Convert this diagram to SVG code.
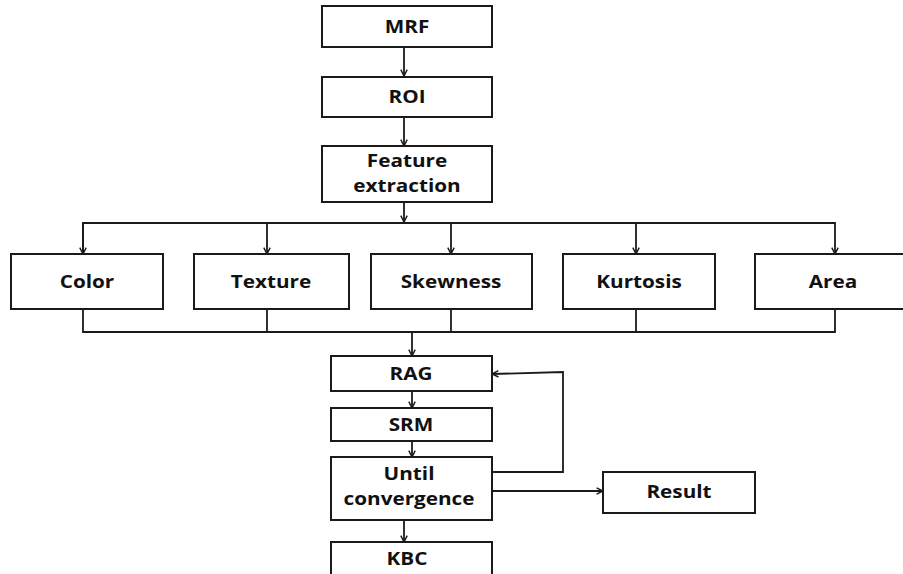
<svg xmlns="http://www.w3.org/2000/svg" width="903" height="574" viewBox="0 0 903 574">
<style>
.box{fill:#fff;stroke:#1a1a1a;stroke-width:2}
.ln{fill:none;stroke:#1a1a1a;stroke-width:1.8}
.t{font-family:"Open Sans","Noto Sans",sans-serif;font-weight:700;font-size:18.5px;fill:#111;text-anchor:middle}
</style>
<defs>
<marker id="ah" viewBox="0 0 10 10" refX="9" refY="5" markerWidth="8" markerHeight="8" markerUnits="userSpaceOnUse" orient="auto">
<path d="M1,1 L9,5 L1,9" fill="none" stroke="#1a1a1a" stroke-width="1.8"/>
</marker>
</defs>
<rect width="903" height="574" fill="#fff"/>
<g id="connectors">
<line class="ln" x1="404" y1="47" x2="404" y2="76" marker-end="url(#ah)"/>
<line class="ln" x1="404" y1="117" x2="404" y2="146" marker-end="url(#ah)"/>
<line class="ln" x1="404" y1="190" x2="404" y2="222" marker-end="url(#ah)"/>
<polyline class="ln" points="83,254 83,223 835,223 835,254" marker-end="url(#ah)"/>
<line class="ln" x1="83" y1="223" x2="83" y2="254" marker-end="url(#ah)"/>
<line class="ln" x1="267" y1="223" x2="267" y2="254" marker-end="url(#ah)"/>
<line class="ln" x1="451" y1="223" x2="451" y2="254" marker-end="url(#ah)"/>
<line class="ln" x1="636" y1="223" x2="636" y2="254" marker-end="url(#ah)"/>
<polyline class="ln" points="83,309 83,332 835,332 835,309"/>
<line class="ln" x1="267" y1="309" x2="267" y2="332"/>
<line class="ln" x1="451" y1="309" x2="451" y2="332"/>
<line class="ln" x1="636" y1="309" x2="636" y2="332"/>
<line class="ln" x1="412" y1="332" x2="412" y2="356" marker-end="url(#ah)"/>
<line class="ln" x1="412" y1="391" x2="412" y2="408" marker-end="url(#ah)"/>
<line class="ln" x1="412" y1="441" x2="412" y2="457" marker-end="url(#ah)"/>
<line class="ln" x1="404" y1="520" x2="404" y2="542" marker-end="url(#ah)"/>
<polyline class="ln" points="492,472 563,472 563,372 492,374" marker-end="url(#ah)"/>
<line class="ln" x1="492" y1="491" x2="603" y2="491" marker-end="url(#ah)"/>
</g>
<g id="mrf"><rect class="box" x="322" y="6" width="170" height="41"/><text class="t" transform="translate(407,33) scale(1.12,1)">MRF</text></g>
<g id="roi"><rect class="box" x="322" y="77" width="170" height="40"/><text class="t" transform="translate(407,103) scale(1.12,1)">ROI</text></g>
<g id="feature"><rect class="box" x="322" y="146" width="170" height="56"/><text class="t" transform="translate(407,167) scale(1.12,1)">Feature</text><text class="t" transform="translate(407,192) scale(1.12,1)">extraction</text></g>
<g id="color"><rect class="box" x="11" y="254" width="152" height="55"/><text class="t" transform="translate(87,288) scale(1.12,1)">Color</text></g>
<g id="texture"><rect class="box" x="194" y="254" width="155" height="55"/><text class="t" transform="translate(271,288) scale(1.12,1)">Texture</text></g>
<g id="skewness"><rect class="box" x="371" y="254" width="161" height="55"/><text class="t" transform="translate(451,288) scale(1.12,1)">Skewness</text></g>
<g id="kurtosis"><rect class="box" x="563" y="254" width="152" height="55"/><text class="t" transform="translate(639,288) scale(1.12,1)">Kurtosis</text></g>
<g id="area"><rect class="box" x="755" y="254" width="156" height="55"/><text class="t" transform="translate(833,288) scale(1.12,1)">Area</text></g>
<g id="rag"><rect class="box" x="331" y="356" width="161" height="35"/><text class="t" transform="translate(411,380) scale(1.12,1)">RAG</text></g>
<g id="srm"><rect class="box" x="331" y="408" width="161" height="33"/><text class="t" transform="translate(411,431) scale(1.12,1)">SRM</text></g>
<g id="until"><rect class="box" x="331" y="457" width="161" height="63"/><text class="t" transform="translate(409,480) scale(1.12,1)">Until</text><text class="t" transform="translate(409,505) scale(1.12,1)">convergence</text></g>
<g id="kbc"><rect class="box" x="331" y="542" width="161" height="40"/><text class="t" transform="translate(407,565) scale(1.12,1)">KBC</text></g>
<g id="result"><rect class="box" x="603" y="472" width="152" height="41"/><text class="t" transform="translate(679,498) scale(1.12,1)">Result</text></g>
</svg>
